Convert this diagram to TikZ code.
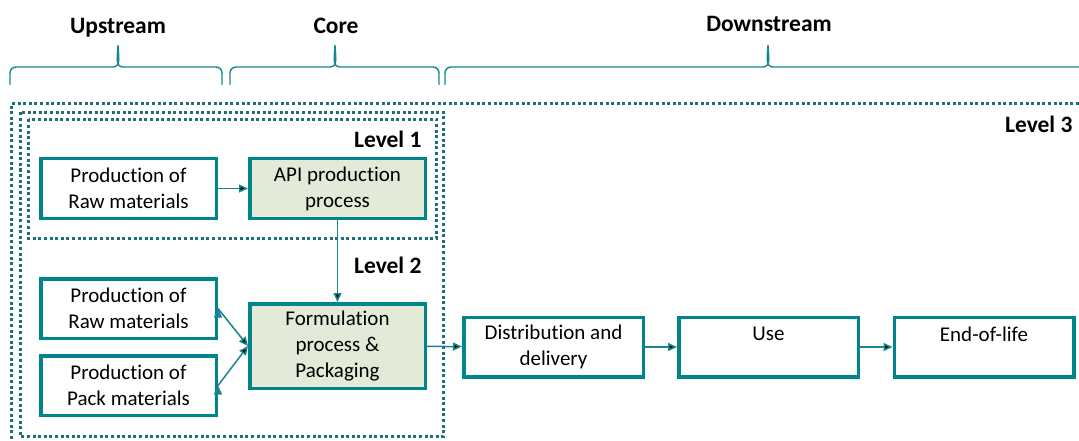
\documentclass[tikz,border=0pt]{standalone}
\usepackage{fontspec}
\setmainfont{Carlito}[Ligatures=CommonOff]
\usetikzlibrary{arrows.meta}
\definecolor{boxteal}{HTML}{00858B}
\definecolor{dotteal}{HTML}{1D6F78}
\definecolor{arrteal}{HTML}{17878F}
\definecolor{apifill}{HTML}{E3EBD8}

\begin{document}
\begin{tikzpicture}[x=1pt,y=-1pt,
    pb/.style={shape=rectangle,draw=boxteal,line width=3.5pt,fill=white,align=center,
      minimum width=175.5pt,minimum height=59.5pt,inner sep=0pt,font=\fontsize{21}{26}\selectfont},
    gb/.style={pb,fill=apifill},
    lvl/.style={draw=dotteal,line width=3pt,dash pattern=on 3pt off 2.6pt},
    brc/.style={draw=arrteal,line width=1.4pt},
    hd/.style={font=\fontsize{23.5}{28}\selectfont\bfseries,anchor=base},
    lv/.style={font=\fontsize{23.5}{28}\selectfont\bfseries,anchor=base east},
    arr/.style={draw=arrteal,line width=1.5pt,-{Triangle[length=9pt,width=8pt]}}]
    \useasboundingbox (0,0) rectangle (1079,441);

    % headings and braces
    \node[hd] (up) at (118,33.5) {Upstream};
    \node[hd] (core) at (336,33.5) {Core};
    \node[hd] (down) at (769,31.5) {Downstream};
    \draw[brc] (10,85) -- (10,73) to[out=90,in=180] (16,67) -- (113,67)
      to[out=0,in=-90] (118,45) to[out=-90,in=180] (123,67) -- (216,67)
      to[out=0,in=90] (222,73) -- (222,85);
    \draw[brc] (230,85) -- (230,73) to[out=90,in=180] (236,67) -- (330,67)
      to[out=0,in=-90] (335,45) to[out=-90,in=180] (340,67) -- (433,67)
      to[out=0,in=90] (439,73) -- (439,85);
    \draw[brc] (445,85) -- (445,73) to[out=90,in=180] (451,67) -- (763,67)
      to[out=0,in=-90] (768,45) to[out=-90,in=180] (773,67) -- (1090,67);

    % levels
    \draw[lvl] (1079,103.5) -- (11.5,103.5) -- (11.5,441);
    \draw[lvl] (20.5,112.5) rectangle (443.5,436.5);
    \draw[lvl] (28.5,119.5) rectangle (436.5,238.5);
    \node[lv] (l1) at (425,147) {Level 1};
    \node[lv] (l2) at (425,273) {Level 2};
    \node[lv] (l3) at (1076,133) {Level 3};

    \node[pb] (1) at (128.5,188.5) {Production of\\Raw materials};
    \node[gb] (2) at (337.5,188.5) {API production\\process};
    \node[pb] (3) at (128.5,308.5) {Production of\\Raw materials};
    \node[pb] (4) at (128.5,385.5) {Production of\\Pack materials};
    \node[gb,minimum height=84.5pt] (5) at (337.5,346) {Formulation\\process \&\\Packaging};
    \node[pb,minimum width=179.5pt] (6) at (553.5,347) {Distribution and\\delivery};
    \node[pb,minimum width=179.5pt] (7) at (768.5,347) {Use\\\mbox{}};
    \node[pb,minimum width=179.5pt] (8) at (984,347) {End-of-life\\\mbox{}};

    \path[arr] (1) edge (2);
    \path[arr] (2) edge (5);
    \path[arr] (3.east) edge (5.west);
    \path[arr] (4.east) edge (5.west);
    \path[arr] (5) edge (6);
    \path[arr] (6) edge (7);
    \path[arr] (7) edge (8);

  \end{tikzpicture}
\end{document}
